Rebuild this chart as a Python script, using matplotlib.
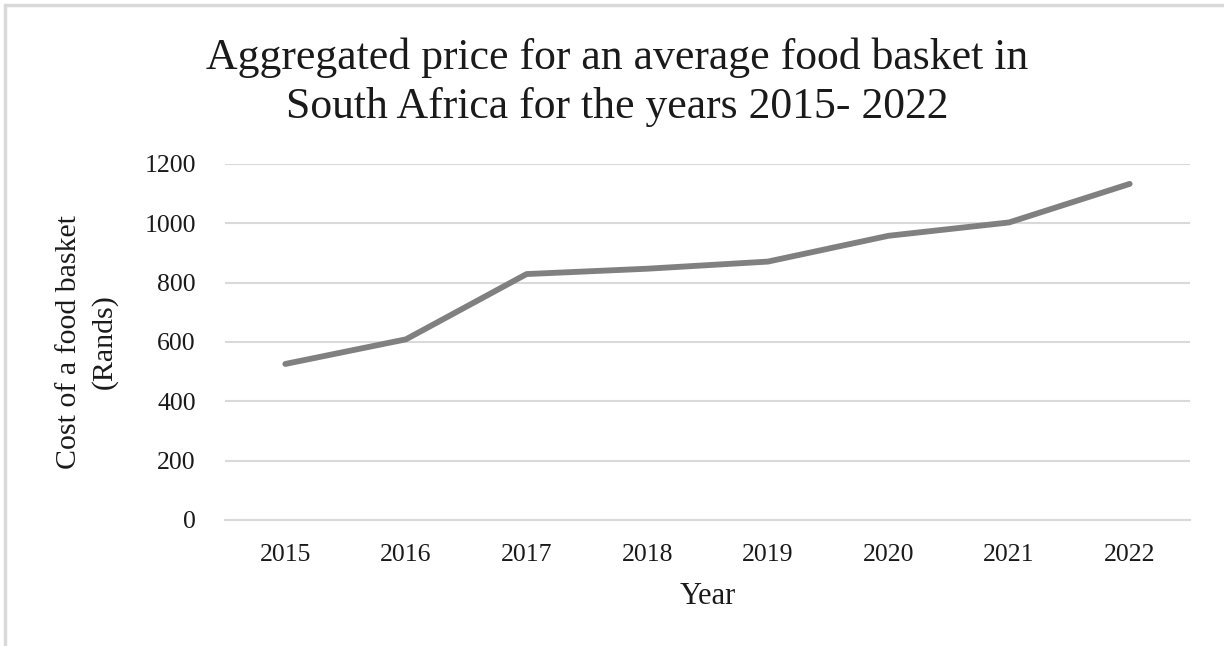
import matplotlib.pyplot as plt
from matplotlib.patches import Rectangle

years = ['2015', '2016', '2017', '2018', '2019', '2020', '2021', '2022']
basket_cost = [526, 609, 829, 847, 871, 958, 1003, 1133]
y_ticks = [0, 200, 400, 600, 800, 1000, 1200]

plt.rcParams['font.family'] = ['Liberation Serif', 'DejaVu Serif']

fig = plt.figure(figsize=(12.24, 6.46), dpi=100)
ax = fig.add_axes([225 / 1224, 126 / 646, 965 / 1224, 356 / 646])

# light frame of the chart area (only top/left visible in the crop)
fig.patches.append(Rectangle((5 / 1224, -0.1), 1.2, 1.1 - 5 / 646, transform=fig.transFigure,
                             fill=False, edgecolor='#d9d9d9', linewidth=2.5))

x = range(len(years))
ax.plot(x, basket_cost, color='#808080', linewidth=4.2, solid_capstyle='round',
        solid_joinstyle='round', zorder=3)

ax.set_xlim(-0.5, len(years) - 0.5)
ax.set_ylim(0, 1200)
ax.set_yticks(y_ticks)
ax.set_xticks(list(x))
ax.set_xticklabels(years)
ax.yaxis.grid(True, color='#d9d9d9', linewidth=1.5)
ax.set_axisbelow(True)
for side in ['top', 'right', 'left']:
    ax.spines[side].set_visible(False)
ax.spines['bottom'].set_color('#d9d9d9')
ax.spines['bottom'].set_linewidth(1.5)
ax.tick_params(axis='both', length=0, labelsize=18.5, colors='#1a1a1a')
ax.tick_params(axis='x', pad=17)
ax.tick_params(axis='y', pad=21)

ax.set_xlabel('Year', fontsize=22, color='#1a1a1a', labelpad=12)
fig.text(87 / 1224, 0.4706, 'Cost of a food basket\n(Rands)', rotation=90, ha='center',
         va='center', fontsize=21.5, color='#1a1a1a', linespacing=1.4)
fig.text(617 / 1224, 0.873, 'Aggregated price for an average food basket in\nSouth Africa for the years 2015- 2022',
         ha='center', va='center', fontsize=31.5, color='#1a1a1a', linespacing=1.3)

fig.savefig('out.png', dpi=100)
